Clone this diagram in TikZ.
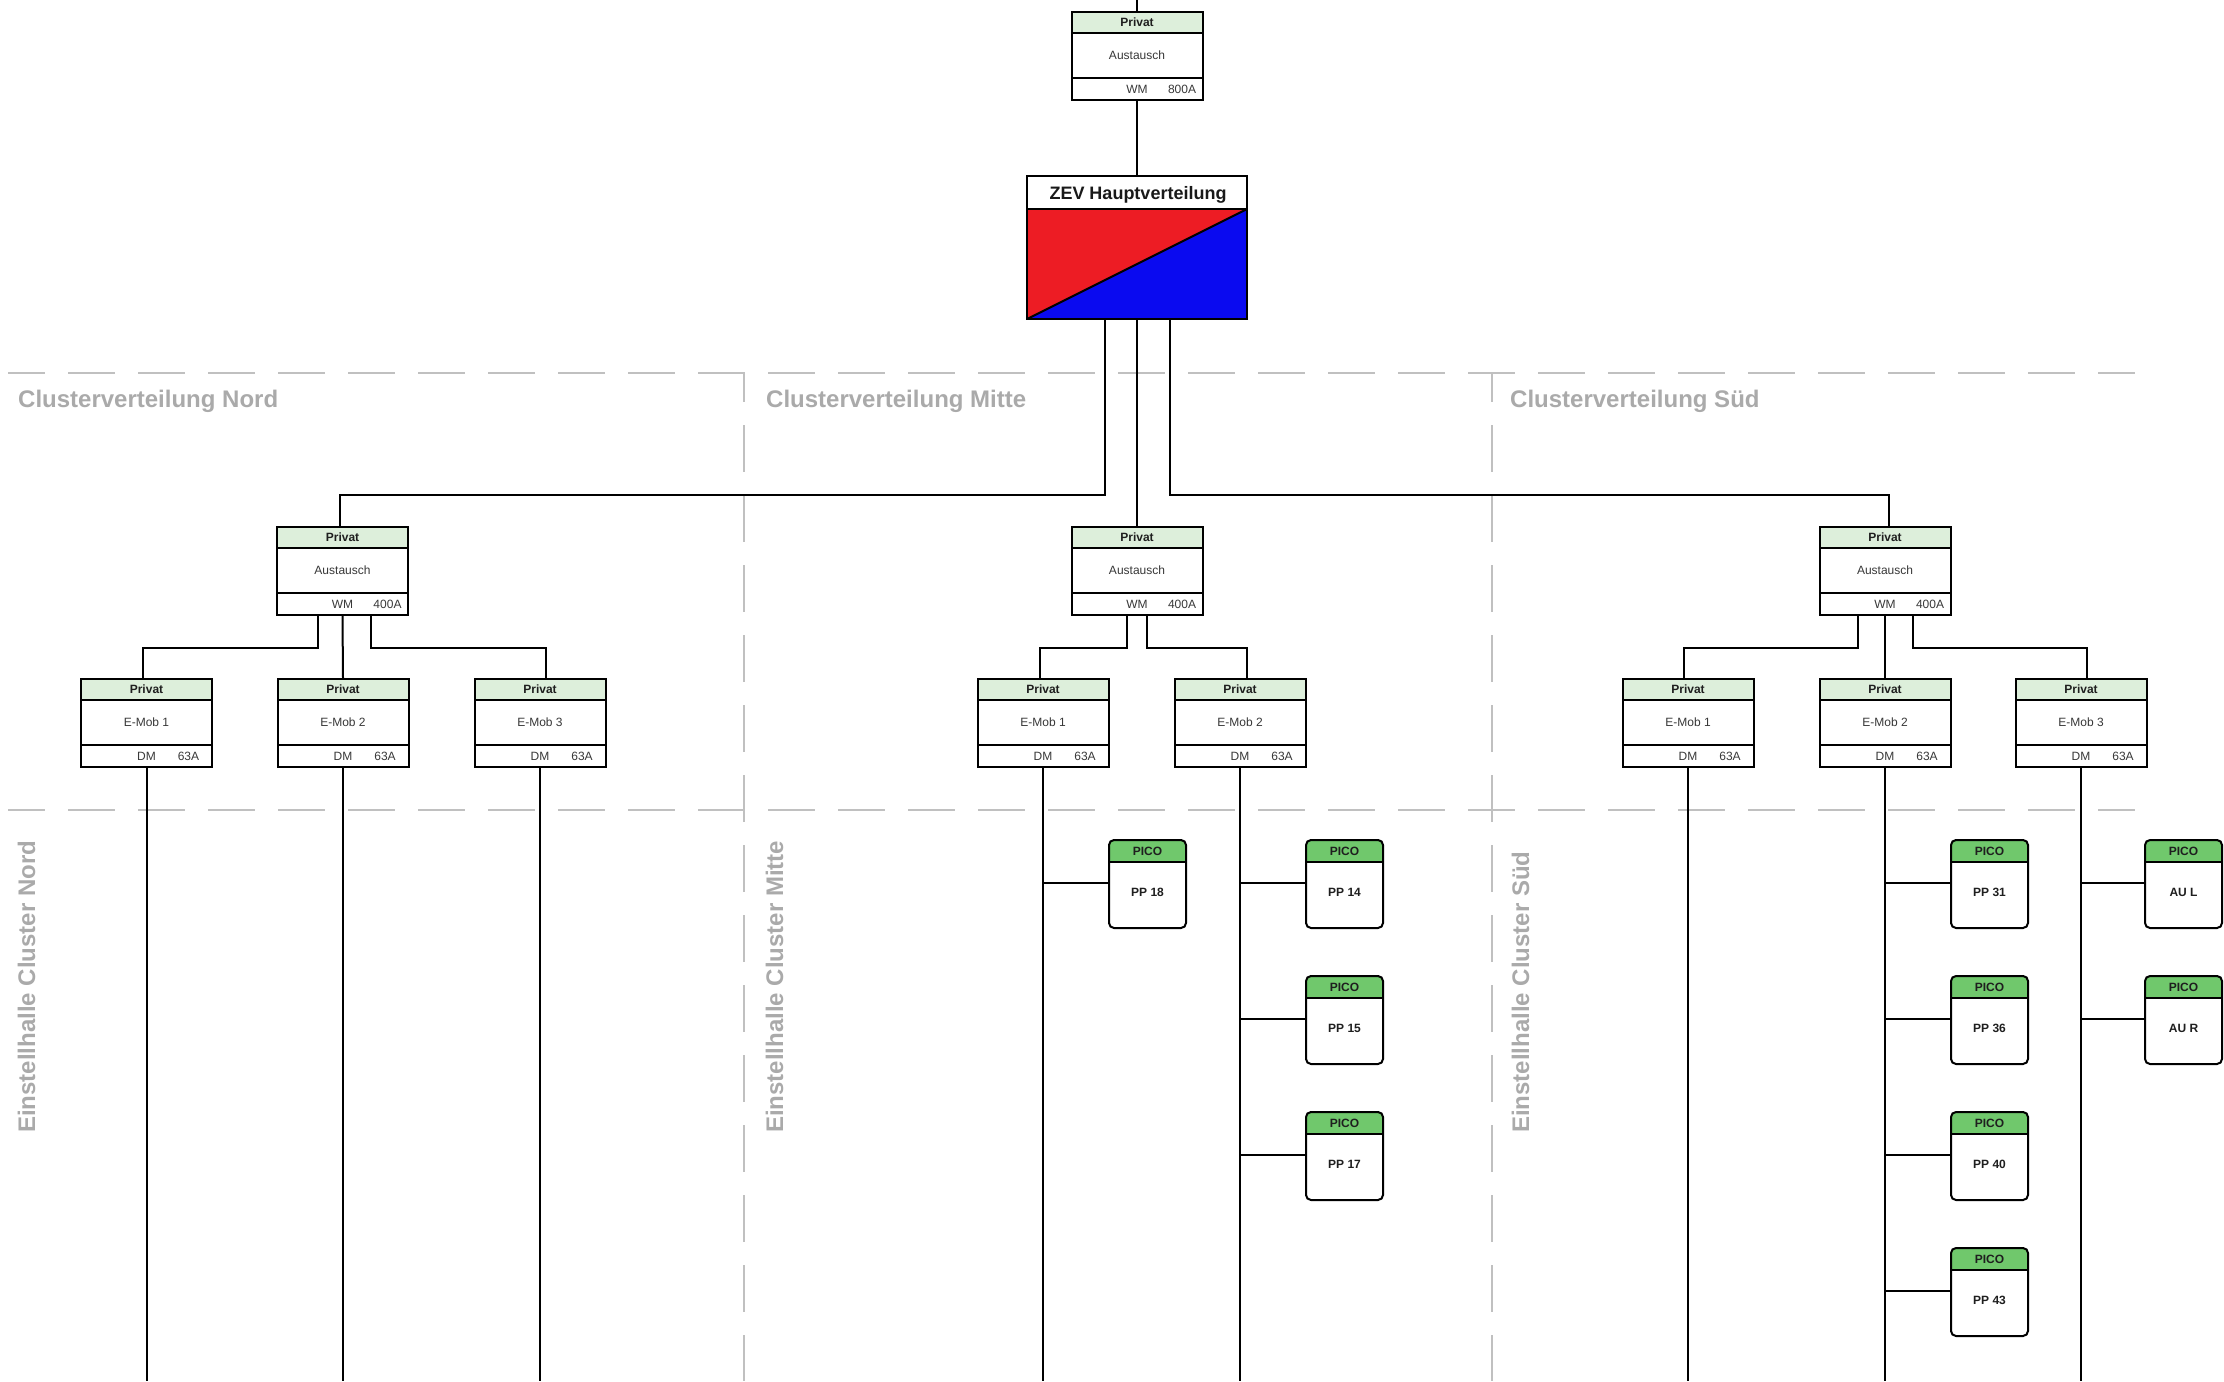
\documentclass[tikz,border=0pt]{standalone}
\usepackage{fontspec}
\setmainfont{Liberation Sans}
\usetikzlibrary{calc}

\definecolor{privfill}{RGB}{221,239,219}
\definecolor{picofill}{RGB}{112,200,108}
\definecolor{zevred}{RGB}{237,28,36}
\definecolor{zevblue}{RGB}{10,10,240}
\definecolor{zonegray}{RGB}{192,192,192}
\definecolor{zonetext}{RGB}{170,170,170}

\tikzset{
  wire/.style={draw=black, line width=2pt},
  frame/.style={draw=black, line width=2pt},
  divider/.style={draw=black, line width=2pt},
  meterbox/.style={frame, rectangle, minimum width=131pt, minimum height=88pt, inner sep=0pt},
  picobox/.style={frame, rectangle, rounded corners=5pt, minimum width=77pt, minimum height=88pt, inner sep=0pt},
  zone/.style={draw=zonegray, line width=2pt, dash pattern=on 47pt off 23pt},
  zonelabel/.style={text=zonetext, font=\fontsize{24}{28}\selectfont\bfseries, inner sep=0pt},
  headtext/.style={font=\fontsize{12}{14}\selectfont\bfseries, text=black!88, inner sep=0pt},
  bodytext/.style={font=\fontsize{12}{14}\selectfont, text=black!78, inner sep=0pt},
}

% meter unit: green "Privat" header, middle line, footer with meter type and rating
\newcommand\meterunit[7]{% #1 name, #2 centre x, #3 top y, #4 middle, #5 footer left, #6 footer right, #7 offset of right text
  \fill[privfill] (#2-65.5,#3) rectangle (#2+65.5,#3+21);
  \node[meterbox] (#1) at (#2,#3+44) {};
  \draw[divider] (#2-65.5,#3+21) -- (#2+65.5,#3+21);
  \draw[divider] (#2-65.5,#3+66) -- (#2+65.5,#3+66);
  \node[headtext] (#1-head) at (#2,#3+10.5) {Privat};
  \node[bodytext] (#1-mid) at (#2,#3+43.5) {#4};
  \node[bodytext] (#1-left) at (#2,#3+77) {#5};
  \node[bodytext] (#1-right) at (#2+#7,#3+77) {#6};
}

% charging point: rounded box with green "PICO" header, fed from a trunk line
\newcommand\picounit[5]{% #1 name, #2 left x, #3 top y, #4 label, #5 trunk node
  \begin{scope}
    \clip[rounded corners=5pt] (#2,#3) rectangle (#2+77,#3+88);
    \fill[picofill] (#2,#3) rectangle (#2+77,#3+22);
  \end{scope}
  \node[picobox] (#1) at (#2+38.5,#3+44) {};
  \draw[divider] (#2,#3+22) -- (#2+77,#3+22);
  \node[headtext] (#1-head) at (#2+38.5,#3+11) {PICO};
  \node[headtext] (#1-label) at (#2+38.5,#3+52) {#4};
  \coordinate (#1-in) at (#2,#3+43);
  \draw[wire] (#1-in) -- (#1-in -| #5.south);
}

\begin{document}
\begin{tikzpicture}[x=1pt,y=-1pt]
\fill[white] (0,0) rectangle (2224,1381);
\useasboundingbox (0,0) rectangle (2224,1381);
\coordinate (feed) at (1137,0);
\coordinate (floor) at (0,1381);

% ---- zone boundaries ----
\draw[zone, dash phase=10pt] (8,373) -- (2135,373);
\draw[zone, dash phase=10pt] (8,810) -- (2135,810);
\draw[zone, dash phase=18pt] (744,373) -- (744,1381);
\draw[zone, dash phase=18pt] (1492,373) -- (1492,1381);

\node[zonelabel, anchor=base west] (lblNord)  at (18,407)   {Clusterverteilung Nord};
\node[zonelabel, anchor=base west] (lblMitte) at (766,407)  {Clusterverteilung Mitte};
\node[zonelabel, anchor=base west] (lblSued)  at (1510,407) {Clusterverteilung Süd};

\node[zonelabel, rotate=90, anchor=base west] (vNord)  at (35,1133)   {Einstellhalle Cluster Nord};
\node[zonelabel, rotate=90, anchor=base west] (vMitte) at (783,1133)  {Einstellhalle Cluster Mitte};
\node[zonelabel, rotate=90, anchor=base west] (vSued)  at (1529,1133) {Einstellhalle Cluster Süd};

% ---- supply meter ----
\meterunit{top}{1137}{12}{Austausch}{WM}{800A}{45}
\draw[wire] (feed) -- (top.north);

% ---- main distribution ----
\fill[white] (1027,176) rectangle (1247,209);
\fill[zevred] (1027,209) -- (1247,209) -- (1027,319) -- cycle;
\fill[zevblue] (1247,209) -- (1247,319) -- (1027,319) -- cycle;
\node[frame, minimum width=220pt, minimum height=143pt, inner sep=0pt] (zev) at (1137,247.5) {};
\draw[divider] (1027,209) -- (1247,209);
\draw[divider] (1027,319) -- (1247,209);
\node[font=\fontsize{18}{21}\selectfont\bfseries, text=black!90, inner sep=0pt] (zev-title) at (1138,194.5) {ZEV Hauptverteilung};
\draw[wire] (top.south) -- (zev.north);

% ---- cluster meters ----
\meterunit{nWM}{342.5}{527}{Austausch}{WM}{400A}{45}
\meterunit{mWM}{1137}{527}{Austausch}{WM}{400A}{45}
\meterunit{sWM}{1885}{527}{Austausch}{WM}{400A}{45}

\draw[wire] ([xshift=-32pt]zev.south) -- ++(0,175) -| ([xshift=-3pt]nWM.north);
\draw[wire] (zev.south) -- (mWM.north);
\draw[wire] ([xshift=33pt]zev.south) -- ++(0,175) -| ([xshift=4pt]sWM.north);

% ---- E-Mob sub meters ----
\meterunit{nE1}{146.5}{679}{E-Mob 1}{DM}{63A}{42}
\meterunit{nE2}{343}{679}{E-Mob 2}{DM}{63A}{42}
\meterunit{nE3}{540}{679}{E-Mob 3}{DM}{63A}{42}
\meterunit{mE1}{1043}{679}{E-Mob 1}{DM}{63A}{42}
\meterunit{mE2}{1240}{679}{E-Mob 2}{DM}{63A}{42}
\meterunit{sE1}{1688}{679}{E-Mob 1}{DM}{63A}{42}
\meterunit{sE2}{1885}{679}{E-Mob 2}{DM}{63A}{42}
\meterunit{sE3}{2081}{679}{E-Mob 3}{DM}{63A}{42}

\draw[wire] ([xshift=-25pt]nWM.south) -- ++(0,32) -| ([xshift=-4pt]nE1.north);
\draw[wire] (nWM.south) -- (nE2.north);
\draw[wire] ([xshift=28pt]nWM.south) -- ++(0,32) -| ([xshift=6pt]nE3.north);

\draw[wire] ([xshift=-10pt]mWM.south) -- ++(0,32) -| ([xshift=-3pt]mE1.north);
\draw[wire] ([xshift=10pt]mWM.south) -- ++(0,32) -| ([xshift=7pt]mE2.north);

\draw[wire] ([xshift=-27pt]sWM.south) -- ++(0,32) -| ([xshift=-4pt]sE1.north);
\draw[wire] (sWM.south) -- (sE2.north);
\draw[wire] ([xshift=28pt]sWM.south) -- ++(0,32) -| ([xshift=6pt]sE3.north);

% ---- trunk lines into the garages ----
\foreach \t in {nE1,nE2,nE3,mE1,mE2,sE1,sE2,sE3}
  \draw[wire] (\t.south) -- (\t.south |- floor);

% ---- charging points ----
\picounit{pp18}{1109}{840}{PP 18}{mE1}
\picounit{pp14}{1306}{840}{PP 14}{mE2}
\picounit{pp15}{1306}{976}{PP 15}{mE2}
\picounit{pp17}{1306}{1112}{PP 17}{mE2}

\picounit{pp31}{1951}{840}{PP 31}{sE2}
\picounit{pp36}{1951}{976}{PP 36}{sE2}
\picounit{pp40}{1951}{1112}{PP 40}{sE2}
\picounit{pp43}{1951}{1248}{PP 43}{sE2}

\picounit{aul}{2145}{840}{AU L}{sE3}
\picounit{aur}{2145}{976}{AU R}{sE3}
\end{tikzpicture}
\end{document}
